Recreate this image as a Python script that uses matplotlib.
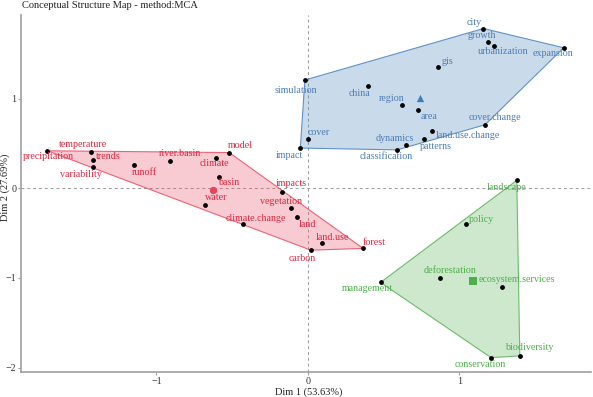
import numpy as np
import matplotlib
matplotlib.use('Agg')
import matplotlib.pyplot as plt

plt.rcParams['font.family'] = ['Liberation Serif', 'DejaVu Serif']

# cluster 1 (red)
red_words = ['precipitation', 'temperature', 'trends', 'variability', 'runoff',
             'river.basin', 'climate', 'model', 'basin', 'water', 'climate.change',
             'impacts', 'vegetation', 'land', 'land.use', 'carbon', 'forest']
red_x = [-1.72, -1.43, -1.42, -1.42, -1.15, -0.91, -0.61, -0.52, -0.59, -0.68,
         -0.43, -0.17, -0.11, -0.07, 0.09, 0.02, 0.365]
red_y = [0.42, 0.41, 0.32, 0.24, 0.26, 0.31, 0.34, 0.40, 0.13, -0.18,
         -0.40, -0.04, -0.22, -0.32, -0.61, -0.69, -0.67]
red_centroid = (-0.63, -0.02)

# cluster 2 (blue)
blue_words = ['city', 'growth', 'urbanization', 'expansion', 'gis', 'simulation',
              'china', 'region', 'area', 'cover.change', 'land.use.change',
              'patterns', 'dynamics', 'classification', 'cover', 'impact']
blue_x = [1.16, 1.19, 1.23, 1.69, 0.86, -0.02, 0.40, 0.62, 0.73, 1.17, 0.82,
          0.77, 0.65, 0.59, 0.0, -0.05]
blue_y = [1.785, 1.64, 1.59, 1.57, 1.35, 1.21, 1.14, 0.93, 0.88, 0.71, 0.64,
          0.55, 0.48, 0.43, 0.55, 0.45]
blue_centroid = (0.74, 1.01)

# cluster 3 (green)
green_words = ['landscape', 'policy', 'deforestation', 'ecosystem.services',
               'management', 'conservation', 'biodiversity']
green_x = [1.38, 1.045, 0.87, 1.28, 0.48, 1.21, 1.40]
green_y = [0.09, -0.40, -1.0, -1.10, -1.05, -1.89, -1.87]
green_centroid = (1.09, -1.03)

# label offsets in pixels (right, up) - roughly where ggrepel put them
red_off = [(1, -6), (-8, 7), (15, 3), (-12, -8), (11, -7), (10, 7), (-1, -6),
           (11, 7), (10, -6), (11, 7), (13, 6), (9, 8), (-10, 7), (10, -7),
           (11, 6), (-9, -8), (11, 6)]
blue_off = [(-9, 6), (-6, 6), (9, -6), (-11, -6), (9, 6), (-9, -10), (-9, -7),
            (-10, 7), (11, -7), (10, 7), (36, -4), (11, -7), (-11, 7), (-11, -7),
            (11, 7), (-11, -7)]
green_off = [(-10, -7), (15, 5), (10, 7), (15, 7), (-13, -6), (-11, -7), (9, 8)]


def hull(xs, ys):
    pts = sorted(set(zip(xs, ys)))
    def cross(o, a, b):
        return (a[0]-o[0])*(b[1]-o[1]) - (a[1]-o[1])*(b[0]-o[0])
    lower, upper = [], []
    for p in pts:
        while len(lower) >= 2 and cross(lower[-2], lower[-1], p) <= 0:
            lower.pop()
        lower.append(p)
    for p in reversed(pts):
        while len(upper) >= 2 and cross(upper[-2], upper[-1], p) <= 0:
            upper.pop()
        upper.append(p)
    return np.array(lower[:-1] + upper[:-1])


fig = plt.figure(figsize=(5.93, 3.97), dpi=100)
ax = fig.add_axes([0.0354, 0.063, 0.9612, 0.899])

ax.axhline(0, color='#9a9a9a', lw=0.7, ls=(0, (3, 3)), zorder=1)
ax.axvline(0, color='#9a9a9a', lw=0.7, ls=(0, (3, 3)), zorder=1)

clusters = [
    (red_words, red_x, red_y, red_centroid, red_off, '#D8283F', '#E8435C', 'o'),
    (blue_words, blue_x, blue_y, blue_centroid, blue_off, '#4A7CB5', '#3F7DBA', '^'),
    (green_words, green_x, green_y, green_centroid, green_off, '#4CAF48', '#4DAF4A', 's'),
]

for words, xs, ys, cen, offs, tcol, fcol, mk in clusters:
    h = hull(xs, ys)
    ax.fill(h[:, 0], h[:, 1], facecolor=fcol, alpha=0.28, edgecolor='none', zorder=2)
    ax.fill(h[:, 0], h[:, 1], facecolor='none', edgecolor=fcol, lw=0.8, alpha=0.8, zorder=2)
    ax.scatter(xs, ys, s=6, color='black', zorder=4)
    ax.scatter([cen[0]], [cen[1]], s=28, marker=mk, color=fcol, zorder=4, linewidths=0)
    for w, x, y, (dx, dy) in zip(words, xs, ys, offs):
        ax.annotate(w, xy=(x, y), xytext=(dx, dy), textcoords='offset pixels',
                    ha='center', va='center', fontsize=7.2, color=tcol, zorder=5)

ax.set_xlim(-1.895, 1.87)
ax.set_ylim(-2.05, 1.935)
ax.set_xticks([-1, 0, 1])
ax.set_yticks([-2, -1, 0, 1])
ax.set_xticklabels(['\u22121', '0', '1'])
ax.set_yticklabels(['\u22122', '\u22121', '0', '1'])

for s in ['top', 'right']:
    ax.spines[s].set_visible(False)
for s in ['left', 'bottom']:
    ax.spines[s].set_color('#a0a0a0')
    ax.spines[s].set_linewidth(1.2)
ax.tick_params(colors='#a0a0a0', labelcolor='#333333', labelsize=7.2, length=2, width=0.8, pad=1.5)

# axis titles placed by hand, the margins are too tight for set_xlabel
fig.text(0.521, 0.012, 'Dim 1 (53.63%)', fontsize=7.5, color='#222222',
         ha='center', va='center')
fig.text(0.009, 0.527, 'Dim 2 (27.69%)', fontsize=7.5, color='#222222',
         ha='center', va='center', rotation=90)
fig.text(0.037, 0.998, 'Conceptual Structure Map - method:MCA', fontsize=7.5,
         color='#222222', ha='left', va='top')

fig.savefig('out.png', dpi=100)
